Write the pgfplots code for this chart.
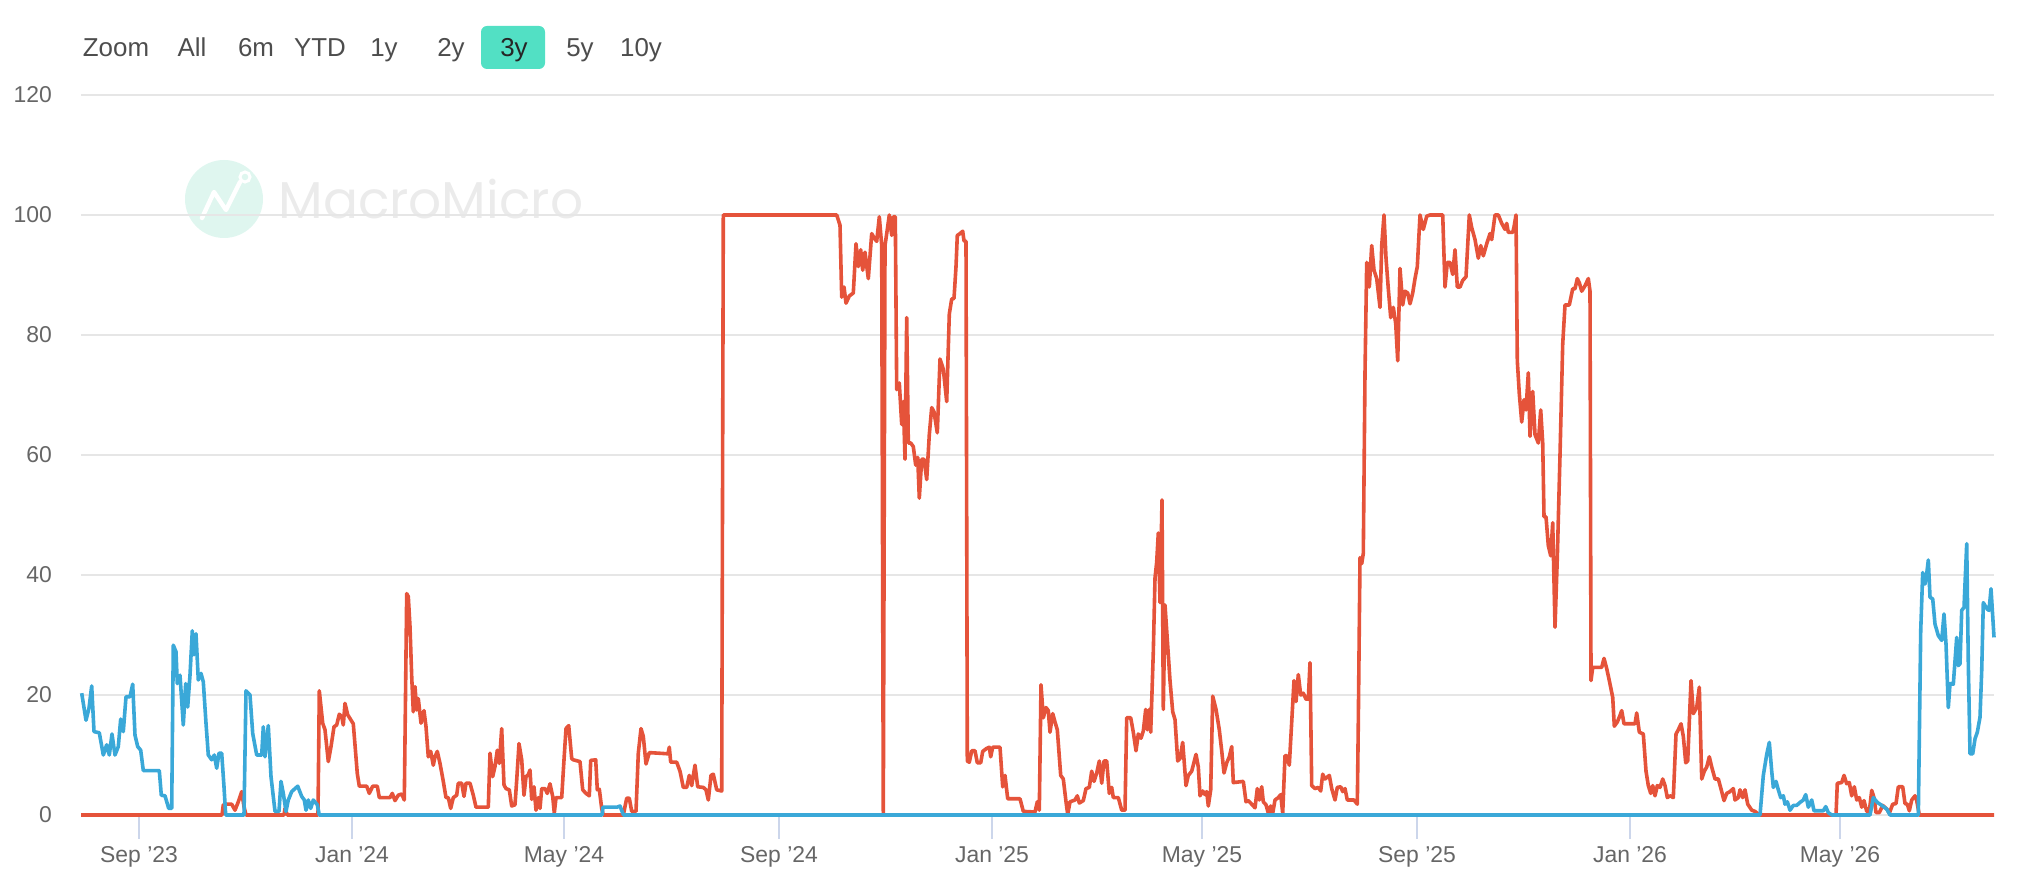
\documentclass[border=0pt]{standalone}
\usepackage{pgfplots}
\pgfplotsset{compat=1.18}
\usepackage{fontspec}
\setmainfont{Liberation Sans}
\newfontfamily\wmfont{Poppins}
\definecolor{redline}{HTML}{E5533A}
\definecolor{blueline}{HTML}{3AA8D8}
\definecolor{gridc}{HTML}{E6E6E6}
\definecolor{tickc}{HTML}{CCD6EB}
\definecolor{labelc}{HTML}{666666}
\definecolor{btntext}{HTML}{4D4D4D}
\definecolor{btn}{HTML}{52E0C4}
\definecolor{wm}{HTML}{EBEBEB}
\definecolor{wmc}{HTML}{DFF6EF}

\pgfplotstableread{
x y
81 0
222 0
223.3 1.7
226.7 1.8
231.7 1.8
235 0.8
238.3 2.2
241.7 3.9
244 1.4
246 0
284 0
285 1.1
287.3 0
318 0
319.3 20.7
322.7 15.3
325 14.2
328.3 8.9
331 11.4
334 14.7
336.7 15
339.3 16.8
341.7 16.4
343.3 15
345 18.6
347.7 16.7
353.3 15.2
357.3 6.9
359.3 4.8
366.7 4.8
369.3 3.6
372.7 4.8
377.3 4.8
379.3 2.9
390 2.9
392.3 3.6
395 2.4
398.3 3.3
401.7 3.5
404.3 2.5
406.7 36.9
408.3 36.4
410 31.4
411.7 23.1
413.3 17.2
415 21.4
416.7 17.5
418.3 19.4
421 15.3
424 17.4
426 14.7
428.3 9.7
430.7 10.6
433.3 8.3
435 9.7
437.3 10.6
440 8.6
443.3 5.6
446 2.9
448.3 2.9
450.7 1.1
453.3 2.9
456.7 3.3
458.3 5.3
461.7 5.3
464 3.1
466 5.3
470 5.3
473.3 3.3
476 1.3
488.3 1.3
490 10.3
492.7 6.4
495 8.1
497.3 10.8
499.3 8.6
501.7 14.4
504 5
506 4.4
509.3 4.2
511.7 1.5
515 1.7
516.7 5.8
519 11.9
521.7 9.2
524 3.3
526 6.4
528.3 6.7
530 7.5
531.7 2.6
534 4.7
536 0.8
538.3 2.9
540 1.1
541.7 4.4
545 4.4
547.3 3.6
550 5.2
552.7 3.1
554.3 0.3
556 2.9
561.7 2.9
564 9.2
566 14.4
568.7 14.9
571.7 9.4
573.3 9.2
580 8.9
582.7 4.2
586 3.6
589.3 3.2
590.7 9.1
595.7 9.2
597.3 4.2
599.3 4.3
601.7 1.1
603.3 0
623.3 0
626.7 2.8
629.3 2.8
631.7 0.6
636 0.6
638.3 10.3
641 14.4
643.3 13.1
646 8.5
649.3 10.4
668 10.2
669.3 11.3
670.7 8.8
676.7 8.8
680 7.3
683.3 4.6
686.7 4.6
689.3 6.6
691.7 4.9
695 8.3
697.7 4.7
703.3 4.6
706 4.2
708.3 2.5
711 6.6
713.3 6.8
716.7 4.2
721.7 4.0
723.3 100
836.7 100
840 98.3
841.7 86.3
844 88
846 85.3
849.3 86.5
853.3 87
856 95.2
858.3 91.4
860.7 94.2
862.7 90.8
865 93.8
868.3 89.4
871.7 96.9
874 96.2
876.7 95.6
879.3 99.7
881.7 94.9
883.3 0
885 94.9
887.3 97.6
889.3 100
891.7 96.6
893.3 99.7
895.3 99.7
896.7 70.9
899.3 72
901.7 65.1
903.3 68.9
905 59.3
906.7 82.9
908.3 62
910.7 62
913.3 61.4
915.7 58.3
917.7 59.6
919.3 52.8
921.7 59.3
924 59.3
926.7 55.9
929.3 63.4
931.7 67.9
934 67.2
937.3 63.7
940 76
943.3 74.3
946.7 68.9
949.3 83.5
951.7 86
954 86.1
956 91.4
957.3 96.6
960 96.9
962.7 97.3
964 95.7
966 95.6
967.3 9.0
969.3 8.8
971.7 10.7
975 10.7
977.3 8.7
980.7 8.7
982.7 10.6
986.7 11.1
989.3 11.3
990.7 9.7
992.7 11.3
1000 11.3
1002.7 4.7
1005 6.6
1007.7 2.7
1020 2.7
1023.3 0.6
1035 0.5
1037.3 2.2
1039.3 0.8
1041 21.7
1043.3 16.2
1046 17.9
1048.3 17.4
1050 13.8
1052.7 16.9
1055 15.5
1057.3 14.2
1060.7 6.6
1063.3 6
1066 2.2
1067.7 0.1
1070 2.2
1075 2.5
1077.3 3.2
1079.3 2
1083.3 2.4
1086 4.4
1089.3 4.6
1091.7 7.3
1094 5.6
1096.7 7
1099.3 9
1101.7 5.3
1104 9
1106.7 9
1109.3 3.6
1111.7 4.6
1113.3 2.9
1118.3 2.9
1121.7 0.8
1125 0.8
1126.7 16.2
1130.7 16.2
1133.3 13.8
1136 10.7
1138.3 13.5
1141 12.8
1143.3 14
1145.7 17.6
1147.3 14.2
1149.3 17.6
1150.7 13.8
1153.3 27.2
1155 39.5
1156.7 42.2
1158.3 47
1160 35.4
1162 52.5
1163.3 17.6
1165 35
1167.3 29.2
1170 22.4
1172.7 17.2
1175 15.9
1177.7 9
1180 9.4
1182.7 12.1
1186 4.9
1188.3 6.6
1191.7 7.3
1196 10.1
1198.3 8
1200 3.2
1202.7 4
1205 3.4
1206.7 3.9
1208.3 1.5
1210.7 4.2
1212.7 19.8
1216 17.6
1219.3 14.2
1221.7 10.7
1224 7
1226.7 8.7
1229.3 9.7
1231.7 11.4
1233.3 5.4
1243.3 5.6
1246 2.2
1248.3 2.4
1251.7 1.8
1255 1.2
1257.3 4.4
1259.3 2.5
1261.7 4.7
1263.3 2.2
1266 1.7
1268.3 0.3
1270.7 1.5
1272.7 0.3
1275 2.5
1278.3 2.9
1280.7 3.4
1282.7 0.3
1285 9.9
1286.7 9.9
1289.3 8.3
1291.7 15.5
1294 22.4
1296 18.9
1298.3 23.4
1300.7 20
1303.3 20.3
1306 19.3
1308.3 19.3
1310 25.4
1311.7 4.9
1315 4.4
1318.3 4.6
1320.7 4
1322.7 6.8
1325 6
1329.3 6.6
1331.7 4.4
1335 2.5
1337.3 4.6
1340.7 4.7
1342.7 3.9
1345 4.4
1347.3 2.5
1354 2.5
1357.3 1.8
1358.3 15.5
1360 42.9
1361.7 41.9
1363.3 43.6
1365 73.7
1366.7 92.1
1369.3 88
1371.7 94.9
1374 90.8
1376.7 89.4
1380 84.6
1381.7 94.9
1384 100
1386 92.8
1388.3 87.7
1390.7 82.9
1393.3 84.6
1395.7 81.9
1397.7 75.7
1400 91.1
1402.7 85
1405 87.3
1407.7 87
1410 85.2
1412.7 87
1415 89.4
1417.3 91.4
1420 100
1423.3 97.6
1426.7 99.8
1430 100
1442.7 100
1445 88
1447.3 92.1
1450 92.1
1452.7 90.1
1455 94.2
1457.3 88
1460 88
1462.7 89.1
1466 89.7
1469.3 100
1471.7 97.9
1475 95.9
1478.3 92.8
1480.7 94.9
1483.3 93.2
1486.7 95.2
1490 96.9
1491.7 95.9
1495 100
1498.3 100
1501.7 98.6
1505 97.6
1506.7 98.6
1508.3 97.1
1512.7 97.1
1514 98
1516 100
1517.3 75.7
1519.3 70.2
1521.7 65.5
1524 69.2
1526 67.5
1528.3 73.7
1530 63.1
1532.7 70.6
1535 63.4
1538.3 62
1540.7 67.5
1542.7 62
1544 49.7
1546 49.7
1548.3 44.9
1550.7 43.2
1552.7 48.7
1555 31.3
1557.3 42.9
1560 60
1562.7 78.5
1565 85
1569.3 85
1572.7 87.7
1575 87.7
1577.3 89.4
1579.3 88.7
1581.7 87.3
1585 88.2
1588.3 89.4
1590 87.3
1591 22.4
1592.7 24.6
1601.7 24.6
1604 26.1
1606.7 24.4
1609.3 22.4
1612.7 19.6
1614.3 14.8
1617.3 15.5
1620 16.6
1621.7 17.4
1624 15.2
1635 15.2
1636.7 17
1639.3 13.8
1643.3 13.5
1646 7.3
1648.3 4.9
1650.7 3.6
1652.7 4.9
1655 3.2
1657.3 4.9
1660 4.6
1662.7 6
1665 4.9
1667.3 2.9
1670 3.2
1673.3 2.9
1676 13.5
1678.3 14.2
1681 15.2
1683.3 13.1
1685.7 8.7
1687.7 9
1689.3 15.5
1691 22.4
1693.3 16.9
1696.7 17.9
1699.3 21.3
1701.7 6
1704.3 7.3
1706.7 8
1709.3 9.7
1711.7 8
1715 6
1718.3 6
1721.7 3.9
1724 2.4
1726.7 3.6
1730 3.9
1733.3 4.4
1735 2.5
1738.3 2.9
1740 4.2
1742.7 2.9
1745 4.2
1747.7 1.8
1751.7 0.8
1755 0.6
1759.3 0
1836 0
1837.3 5.3
1841.7 5.4
1844 6.6
1846.7 5.2
1849.3 5.4
1851.7 3.2
1854.3 4.7
1856.7 2.5
1859.3 2.9
1861.7 1.3
1864 2.4
1866.7 0.6
1869.3 0.6
1871.7 4.1
1874 2.9
1876 0.4
1879.3 0.4
1882.7 1.6
1886.7 1
1889.3 0.3
1892.7 1.8
1896 1.9
1898.3 4.7
1902.7 4.7
1905 1.9
1907.3 1.8
1909.3 0.7
1911.7 2.5
1915 3.2
1916.7 2.4
1919.3 0
1994 0
}\redseries

\pgfplotstableread{
x y
81.7 20.3
86 15.8
89 17.8
91.7 21.5
94 13.9
99.3 13.7
103.3 10
106.7 11.7
109.3 10
112 13.5
115 10
118.3 11.4
120.7 16
123.3 13.9
126 19.7
130 19.7
132.7 21.8
135 13.3
137.7 11.4
140.7 10.8
143.3 7.4
159.3 7.4
161.3 3.3
165 3.2
168.7 1.1
171.7 1.1
173.3 28.3
176 27.2
177.3 21.9
180 23.3
183.3 15
185.7 21.9
187.7 18
190 23.3
192.3 30.7
194 26.7
196 30.2
198.3 22.5
201 23.6
203.3 22.2
206 15.3
208.3 10
211.7 9.2
214.3 10
216.7 7.8
219 10.3
221.7 10.3
224 4.7
225.7 0
244 0
246 20.7
250 20
252.7 13.6
256.7 10
261.7 10
263.3 14.7
265 9.7
268.3 14.9
271 6.4
275 0.6
279 0.6
281 5.6
283.3 3.6
286 0.6
288.3 2.5
291.7 3.9
297.7 4.8
301.7 3.1
304.3 2.5
306 0.8
308.3 2.5
310.7 1.1
313.3 2.5
317.3 1.7
319.3 0
602 0
603 1.3
617 1.3
620 1.5
623.5 0
1760 0
1763.3 6.6
1766.7 10.1
1769.3 12.1
1771.7 7.3
1773.3 4.6
1776 5.6
1778.3 4.2
1780.7 2.9
1783.3 3.2
1785 1.8
1787.3 2.2
1790 0.8
1793.3 1.6
1796.7 1.6
1800 2.1
1803.3 2.5
1805.7 3.4
1808.3 1.3
1811.7 2.5
1814 0.7
1823.3 0.7
1825.7 1.4
1828.3 0.4
1831.7 0
1870 0
1873.3 2.9
1877.3 2.1
1881.7 1.6
1886.7 1
1890 0
1918.3 0
1920.7 30.7
1922.7 40.4
1925 38.5
1926.7 40.2
1928.3 42.5
1930 36.3
1932.7 36
1935 31.8
1938.3 29.9
1941.7 29.1
1944 33.5
1946 28.5
1948.3 17.9
1950 21.9
1953.3 21.8
1956.7 29.6
1958.3 24.9
1960 25.2
1961.7 34.1
1964 34.6
1966.7 45.2
1968.3 25.2
1970 10.2
1972.7 10.2
1975 12.7
1977.3 13.8
1980 16.3
1981.7 24.1
1983.3 35.4
1985 34.9
1987.3 34.3
1989 34.1
1991 37.7
1994 29.6
}\blueseries

\begin{document}
\begin{tikzpicture}[x=1bp,y=1bp]
\path[use as bounding box] (0,0) rectangle (1018bp,446bp);
% watermark
\fill[wmc] (112bp,346.5bp) circle (19.5bp);
\draw[white, line width=2.2bp, line join=round, line cap=round] (101bp,337bp) -- (107bp,350bp) -- (113bp,341bp) -- (120bp,355bp);
\draw[white, line width=1.5bp] (122.5bp,357.5bp) circle (2.5bp);
\node[text=wm, font=\wmfont\fontsize{26}{28}\selectfont, anchor=west, inner sep=0pt] at (139bp,346.5bp) {MacroMicro};
% range selector
\fill[btn, rounded corners=3bp] (240.5bp,411.5bp) rectangle (272.5bp,433bp);
\foreach \t/\xx in {Zoom/58, All/96, 6m/128, YTD/160, 1y/192, 2y/225.5, 5y/290, 10y/320.5}{
  \node[text=btntext, font=\fontsize{13}{15}\selectfont, anchor=base] at (\xx bp,417.5bp) {\t};
}
\node[text=black!85, font=\fontsize{13}{15}\selectfont, anchor=base] at (257bp,417.5bp) {3y};
\begin{axis}[
  at={(40.5bp,38.5bp)}, anchor=south west,
  width=956.5bp, height=360bp, scale only axis,
  xmin=81, xmax=1994, ymin=0, ymax=120,
  clip=false,
  axis line style={draw=none},
  xtick pos=bottom, ytick pos=left,
  xtick={139,352,564,779,992,1202,1417,1630,1840},
  xticklabels={Sep '23, Jan '24, May '24, Sep '24, Jan '25, May '25, Sep '25, Jan '26, May '26},
  ytick={0,20,...,120},
  ymajorgrids, grid style={gridc, line width=0.75bp},
  tick align=outside,
  xtick style={tickc, line width=0.75bp},
  ytick style={draw=none},
  major tick length=12bp,
  /pgf/number format/assume math mode=true,
  xticklabel style={font=\fontsize{11.5}{13}\selectfont, text=labelc},
  yticklabel style={font=\fontsize{11.5}{13}\selectfont, text=labelc, xshift=1bp},
]
\addplot[redline, line width=1.8bp, line join=round, mark=none] table[x=x,y=y] {\redseries};
\addplot[blueline, line width=1.8bp, line join=round, mark=none] table[x=x,y=y] {\blueseries};
\end{axis}
\end{tikzpicture}
\end{document}
